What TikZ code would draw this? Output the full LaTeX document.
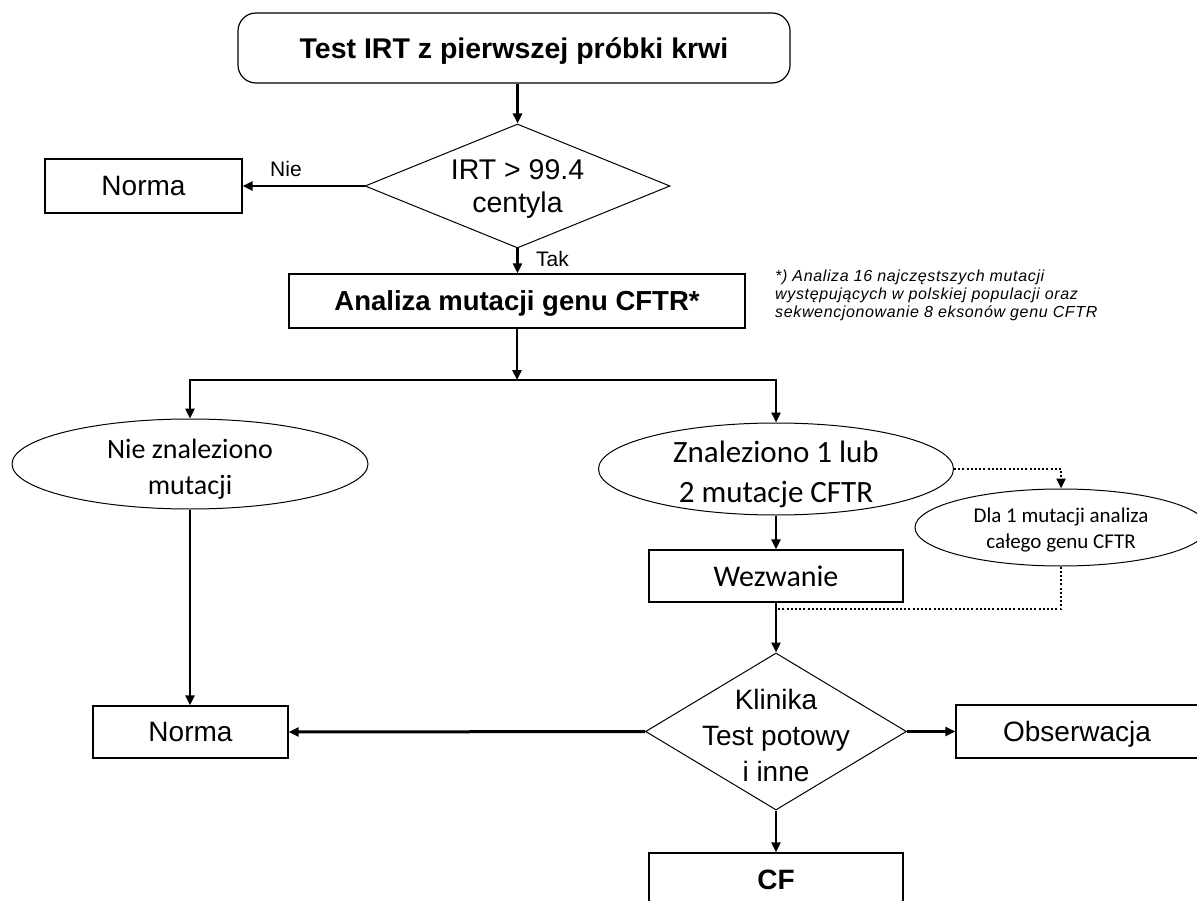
\documentclass[tikz,border=0pt]{standalone}
\usepackage{fontspec}
\setmainfont{Liberation Sans}
\newfontfamily\calibrifont{Carlito}
\newfontfamily\notefont[LetterSpace=4]{Liberation Sans}
\usetikzlibrary{shapes.geometric,arrows.meta}

\begin{document}
\begin{tikzpicture}[x=1pt,y=-1pt,
  arialtext/.style={font=\fontsize{28}{33}\selectfont},
  box/.style={draw, line width=1.2pt, inner sep=0pt, text depth=0pt, arialtext},
  startbox/.style={box, rounded corners=18pt},
  decision/.style={diamond, draw, line width=1pt, inner sep=0pt},
  oval/.style={ellipse, draw, line width=1pt, inner sep=0pt},
  txt/.style={inner sep=0pt, align=center},
  lbl/.style={inner sep=0pt, font=\fontsize{21}{24}\selectfont},
  conn/.style={line width=2.4pt, -{Triangle[length=10pt,width=9pt]}},
  dotline/.style={line width=2.4pt, dash pattern=on 2pt off 2.2pt},
]
\useasboundingbox (0,0) rectangle (1197,901);

% --- screening stage ---
\node[startbox, minimum width=552pt, minimum height=70pt,
      font=\bfseries\fontsize{28.5}{33}\selectfont]
      (start) at (514,48) {Test IRT z pierwszej próbki krwi};

\node[decision, minimum width=305pt, minimum height=124pt] (q1) at (517.5,186) {};
\node[txt, font=\fontsize{28.5}{33}\selectfont] (q1t) at (517.5,189) {IRT > 99.4\\centyla};

\node[box, minimum width=197pt, minimum height=54pt] (norma1) at (143.5,186) {Norma};

\node[box, minimum width=456pt, minimum height=54pt,
      font=\bfseries\fontsize{27.5}{33}\selectfont] (analiza) at (517,301) {Analiza mutacji genu CFTR*};

\node[inner sep=0pt, anchor=north west, align=left,
      font=\notefont\itshape\fontsize{16}{18}\selectfont] (note) at (775,270)
  {*) Analiza 16 najczęstszych mutacji\\występujących w polskiej populacji oraz\\sekwencjonowanie 8 eksonów genu CFTR};

% --- genetic results ---
\node[oval, minimum width=356pt, minimum height=90pt] (e1) at (190,464) {};
\node[txt, font=\calibrifont\fontsize{28}{36}\selectfont] (e1t) at (190,469) {Nie znaleziono\\mutacji};

\node[oval, minimum width=355pt, minimum height=92pt] (e2) at (776,469) {};
\node[txt, font=\calibrifont\fontsize{31}{40}\selectfont] (e2t) at (776,474) {Znaleziono 1 lub\\2 mutacje CFTR};

\node[oval, minimum width=292pt, minimum height=77pt] (e3) at (1061,527.5) {};
\node[txt, font=\calibrifont\fontsize{21}{26}\selectfont] (e3t) at (1061,530.5) {Dla 1 mutacji analiza\\całego genu CFTR};

\node[box, minimum width=254pt, minimum height=52pt, font=\calibrifont\fontsize{30}{36}\selectfont]
      (wez) at (776,576) {Wezwanie};

% --- clinical stage ---
\node[decision, minimum width=261pt, minimum height=157pt] (q2) at (776,731.5) {};
\node[txt, font=\fontsize{28}{36}\selectfont] (q2t) at (776,735) {Klinika\\Test potowy\\i inne};

\node[box, minimum width=195pt, minimum height=52pt] (norma2) at (190.5,732) {Norma};
\node[box, minimum width=242pt, minimum height=53pt] (obs) at (1077,731.5) {Obserwacja};
\node[box, minimum width=254pt, minimum height=54pt, font=\bfseries\fontsize{28}{33}\selectfont]
      (cf) at (776,880) {CF};

% --- branch labels ---
\node[lbl] (nie) at (286,169) {Nie};
\node[lbl] (tak) at (552.5,259) {Tak};

% --- connectors ---
\coordinate (split) at (517,380);
\coordinate (merge) at (776,609);

\draw[conn] (start.south -| q1.north) -- (q1.north);
\draw[conn, line width=2.8pt] (q1.west) -- (norma1.east);
\draw[conn] (q1.south) -- (q1.south |- analiza.north);
\draw[conn] (analiza.south) -- (split);
\draw[conn] (split) -| (e1.north);
\draw[conn] (split) -| (e2.north);
\draw[conn] (e1.south) -- (e1.south |- norma2.north);
\draw[conn] (e2.south) -- (wez.north);
\draw[conn] (wez.south) -- (q2.north);
\draw[conn, line width=3pt] (q2.west) -- (norma2.east);
\draw[conn] (q2.east) -- (obs.west);
\draw[conn] (q2.south) -- (cf.north);

\draw[dotline, -{Triangle[length=10pt,width=9pt]}] (e2.east) -| (e3.north);
\draw[dotline] (e3.south) |- (merge);
\end{tikzpicture}
\end{document}
